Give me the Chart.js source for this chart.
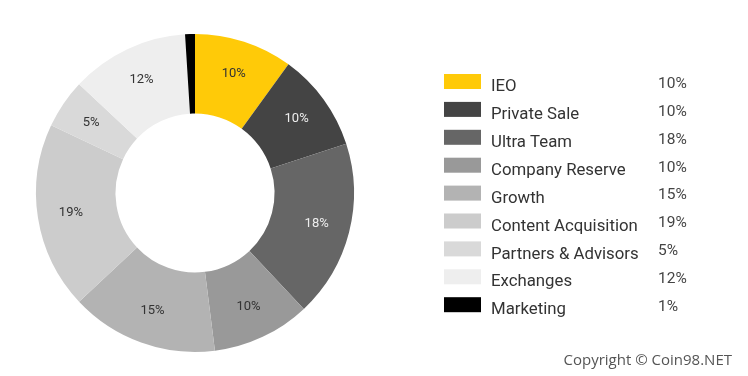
<!DOCTYPE html>
<html>
<head>
<meta charset="utf-8">
<script src="https://cdn.jsdelivr.net/npm/chart.js@4/dist/chart.umd.min.js"></script>
<style>
  html, body { margin: 0; padding: 0; background: #fff; }
  #wrap { position: relative; width: 748px; height: 376px; }
</style>
</head>
<body>
<div id="wrap"><canvas id="pieChart" width="748" height="376"></canvas></div>
<script>
const labels = ["IEO", "Private Sale", "Ultra Team", "Company Reserve", "Growth",
  "Content Acquisition", "Partners & Advisors", "Exchanges", "Marketing"];
const shares = [10, 10, 18, 10, 15, 19, 5, 12, 1];
const colors = ["#ffca08", "#444444", "#666666", "#999999", "#b3b3b3",
  "#cccccc", "#d9d9d9", "#eeeeee", "#000000"];
const labelColors = ["#333333", "#eeeeee", "#eeeeee", "#333333", "#333333",
  "#333333", "#333333", "#333333", "#333333"];

// percentage text inside each slice
const sliceLabels = {
  id: "sliceLabels",
  afterDatasetsDraw(chart) {
    const ctx = chart.ctx;
    const meta = chart.getDatasetMeta(0);
    ctx.save();
    ctx.font = "13px Roboto";
    ctx.textAlign = "center";
    ctx.textBaseline = "middle";
    meta.data.forEach((arc, i) => {
      if (shares[i] < 2) return;
      const p = arc.getProps(["x", "y", "startAngle", "endAngle", "innerRadius", "outerRadius"]);
      const mid = (p.startAngle + p.endAngle) / 2;
      const r = p.innerRadius + (p.outerRadius - p.innerRadius) * 0.58;
      ctx.fillStyle = labelColors[i];
      ctx.fillText(shares[i] + "%", p.x + Math.cos(mid) * r, p.y + Math.sin(mid) * r);
    });
    ctx.restore();
  }
};

// legend on the right, with the share column
const sideLegend = {
  id: "sideLegend",
  afterDraw(chart) {
    const ctx = chart.ctx;
    ctx.save();
    labels.forEach((name, i) => {
      const y = 74 + i * 27.9;
      ctx.fillStyle = colors[i];
      ctx.fillRect(444, y, 37, 15);
      ctx.fillStyle = "#333333";
      ctx.font = "16.8px Roboto";
      ctx.textBaseline = "middle";
      ctx.textAlign = "left";
      ctx.fillText(name, 491, y + 13);
      ctx.fillStyle = "#444444";
      ctx.font = "15.5px Roboto";
      ctx.fillText(shares[i] + "%", 658, y + 10);
    });
    ctx.font = "15px 'Open Sans'";
    ctx.fillStyle = "#555555";
    ctx.textAlign = "right";
    ctx.fillText("Copyright \u00a9 Coin98.NET", 732, 361);
    ctx.restore();
  }
};

const config = {
  type: "doughnut",
  data: {
    labels: labels,
    datasets: [
      {
        data: shares,
        backgroundColor: colors,
        borderWidth: 0,
      },
    ],
  },
  options: {
    responsive: false,
    animation: false,
    cutout: "50%",
    layout: {
      padding: { left: 36, right: 394, top: 34, bottom: 24 },
    },
    plugins: {
      legend: { display: false },
      tooltip: { enabled: false },
    },
  },
  plugins: [sliceLabels, sideLegend],
};

const pieChart = new Chart(document.getElementById("pieChart"), config);
</script>
</body>
</html>
